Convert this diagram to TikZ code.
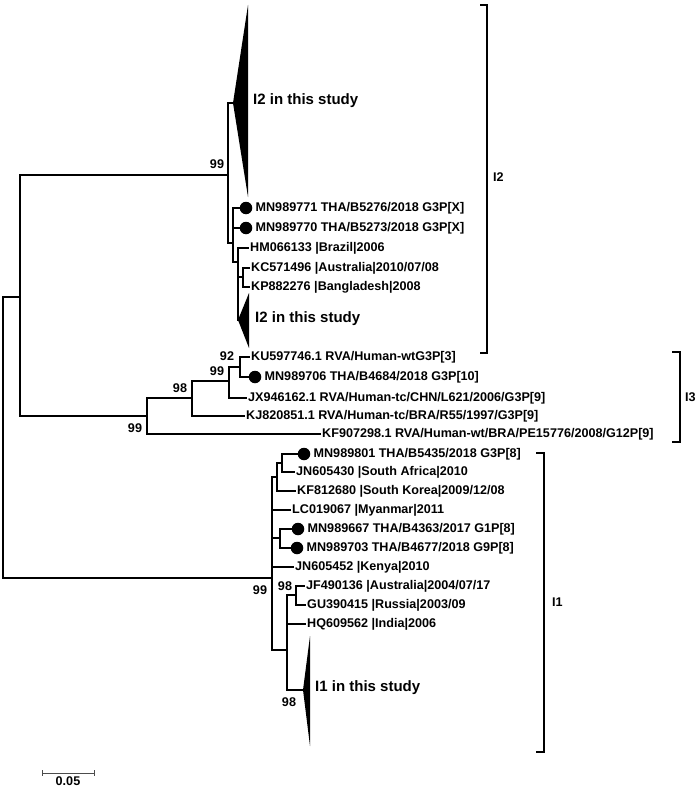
\documentclass[tikz,border=0pt]{standalone}
\usepackage{fontspec}
\setmainfont{Liberation Sans}
\usetikzlibrary{positioning, calc}

\begin{document}
\begin{tikzpicture}[x=1pt, y=-1pt,
    branch/.style={line width=2.5pt, line cap=rect},
    leaf/.style={anchor=west, inner xsep=2pt, inner ysep=0pt, font=\fontsize{12.6}{14}\selectfont\bfseries},
    dot/.style={circle, fill, inner sep=0pt, minimum size=12.5pt},
    boot/.style={inner sep=0pt, font=\fontsize{12.6}{14}\selectfont\bfseries},
    clade/.style={anchor=west, inner sep=0pt, font=\fontsize{15}{17}\selectfont\bfseries},
    bracket/.style={line width=2.6pt},
    group/.style={anchor=west, inner sep=0pt, font=\fontsize{12.6}{14}\selectfont\bfseries}]
    \useasboundingbox (0,0) rectangle (698,789);

    % Internal nodes
    \coordinate (root) at (3,437);
    \coordinate (nA) at (20,297);
    \coordinate (nB) at (228,175);
    \coordinate (nC) at (233,243);
    \coordinate (nD) at (238,262);
    \coordinate (nE) at (243,277);
    \coordinate (nF) at (147,416);
    \coordinate (nG) at (192,398);
    \coordinate (nH) at (229,381);
    \coordinate (nI) at (240,367);
    \coordinate (nK) at (272,578);
    \coordinate (nM) at (277,477);
    \coordinate (nL) at (282,463);
    \coordinate (nN) at (280,538);
    \coordinate (nJ) at (287,650);
    \coordinate (nO) at (296,595);
    \coordinate (tipA) at (233,103);
    \coordinate (tipB) at (238,320);
    \coordinate (tipC) at (303,690);

    % Collapsed clades
    \fill (tipA) -- (248,5) -- (248,197) -- cycle;
    \fill (tipB) -- (249,293) -- (249,348) -- cycle;
    \fill (tipC) -- (310,636) -- (310,746) -- cycle;
    \node (cladeA) [clade] at (253,101) {I2 in this study};
    \node (cladeB) [clade] at (255,319) {I2 in this study};
    \node (cladeC) [clade] at (315,688) {I1 in this study};

    % Leaves
    \node (d771) [dot] at (246,208) {};
    \node (t771) [leaf, right=1pt of d771] {MN989771 THA/B5276/2018 G3P[X]};
    \node (d770) [dot] at (246,228) {};
    \node (t770) [leaf, right=1pt of d770] {MN989770 THA/B5273/2018 G3P[X]};
    \node (hm) [leaf] at (248,248) {HM066133 |Brazil|2006};
    \node (kc) [leaf] at (249,268) {KC571496 |Australia|2010/07/08};
    \node (kp) [leaf] at (249,287) {KP882276 |Bangladesh|2008};
    \node (ku) [leaf] at (249,357) {KU597746.1 RVA/Human-wtG3P[3]};
    \node (d706) [dot] at (255,377) {};
    \node (t706) [leaf, right=1pt of d706] {MN989706 THA/B4684/2018 G3P[10]};
    \node (jx) [leaf] at (246,398) {JX946162.1 RVA/Human-tc/CHN/L621/2006/G3P[9]};
    \node (kj) [leaf] at (244,416) {KJ820851.1 RVA/Human-tc/BRA/R55/1997/G3P[9]};
    \node (kf) [leaf] at (320,434) {KF907298.1 RVA/Human-wt/BRA/PE15776/2008/G12P[9]};
    \node (d801) [dot] at (304,454) {};
    \node (t801) [leaf, right=1pt of d801] {MN989801 THA/B5435/2018 G3P[8]};
    \node (jn430) [leaf] at (294,472) {JN605430 |South Africa|2010};
    \node (kf680) [leaf] at (295,491) {KF812680 |South Korea|2009/12/08};
    \node (lc) [leaf] at (290,510) {LC019067 |Myanmar|2011};
    \node (d667) [dot] at (298,529) {};
    \node (t667) [leaf, right=1pt of d667] {MN989667 THA/B4363/2017 G1P[8]};
    \node (d703) [dot] at (297,548) {};
    \node (t703) [leaf, right=1pt of d703] {MN989703 THA/B4677/2018 G9P[8]};
    \node (jn452) [leaf] at (293,567) {JN605452 |Kenya|2010};
    \node (jf) [leaf] at (304,586) {JF490136 |Australia|2004/07/17};
    \node (gu) [leaf] at (305,605) {GU390415 |Russia|2003/09};
    \node (hq) [leaf] at (305,624) {HQ609562 |India|2006};

    % Bootstrap values
    \node (bB) [boot] at (217,164) {99};
    \node (bI) [boot] at (227,356) {92};
    \node (bH) [boot] at (217,371) {99};
    \node (bG) [boot] at (180,388) {98};
    \node (bF) [boot] at (135,428) {99};
    \node (bK) [boot] at (260,590) {99};
    \node (bO) [boot] at (285,586) {98};
    \node (bJ) [boot] at (289,702) {98};

    % Branches
    \draw[branch] (root) |- (nA);
    \draw[branch] (root) |- (nK);
    \draw[branch] (nA) |- (nB);
    \draw[branch] (nA) |- (nF);
    \draw[branch] (nB) |- (tipA);
    \draw[branch] (nB) |- (nC);
    \draw[branch] (nC) |- (d771);
    \draw[branch] (nC) |- (d770);
    \draw[branch] (nC) |- (nD);
    \draw[branch] (nD) |- (hm.west);
    \draw[branch] (nD) |- (nE);
    \draw[branch] (nD) |- (tipB);
    \draw[branch] (nE) |- (kc.west);
    \draw[branch] (nE) |- (kp.west);
    \draw[branch] (nF) |- (nG);
    \draw[branch] (nF) |- (kf.west);
    \draw[branch] (nG) |- (nH);
    \draw[branch] (nG) |- (kj.west);
    \draw[branch] (nH) |- (nI);
    \draw[branch] (nH) |- (jx.west);
    \draw[branch] (nI) |- (ku.west);
    \draw[branch] (nI) |- (d706);
    \draw[branch] (nK) |- (nM);
    \draw[branch] (nK) |- (lc.west);
    \draw[branch] (nK) |- (nN);
    \draw[branch] (nK) |- (jn452.west);
    \draw[branch] (nK) |- (nJ);
    \draw[branch] (nM) |- (nL);
    \draw[branch] (nM) |- (kf680.west);
    \draw[branch] (nL) |- (d801);
    \draw[branch] (nL) |- (jn430.west);
    \draw[branch] (nN) |- (d667);
    \draw[branch] (nN) |- (d703);
    \draw[branch] (nJ) |- (nO);
    \draw[branch] (nJ) |- (hq.west);
    \draw[branch] (nJ) |- (tipC);
    \draw[branch] (nO) |- (jf.west);
    \draw[branch] (nO) |- (gu.west);

    % Lineage brackets
    \draw[bracket] (480,5) -- (487,5) -- (487,353) -- (480,353);
    \node (gI2) [group] at (493,177) {I2};
    \draw[bracket] (672,352) -- (680,352) -- (680,442) -- (672,442);
    \node (gI3) [group] at (685,397) {I3};
    \draw[bracket] (536,453) -- (544,453) -- (544,752) -- (536,752);
    \node (gI1) [group] at (552,602) {I1};

    % Scale bar
    \coordinate (sbL) at (42,773);
    \coordinate (sbR) at (94,773);
    \draw[line width=0.8pt, black!70] (sbL) -- (sbR);
    \draw[line width=0.8pt, black!70] ($(sbL)+(0,-3)$) -- ($(sbL)+(0,3)$);
    \draw[line width=0.8pt, black!70] ($(sbR)+(0,-3)$) -- ($(sbR)+(0,3)$);
    \node (sbText) [boot, below=3pt of $(sbL)!0.5!(sbR)$] {0.05};
\end{tikzpicture}
\end{document}
